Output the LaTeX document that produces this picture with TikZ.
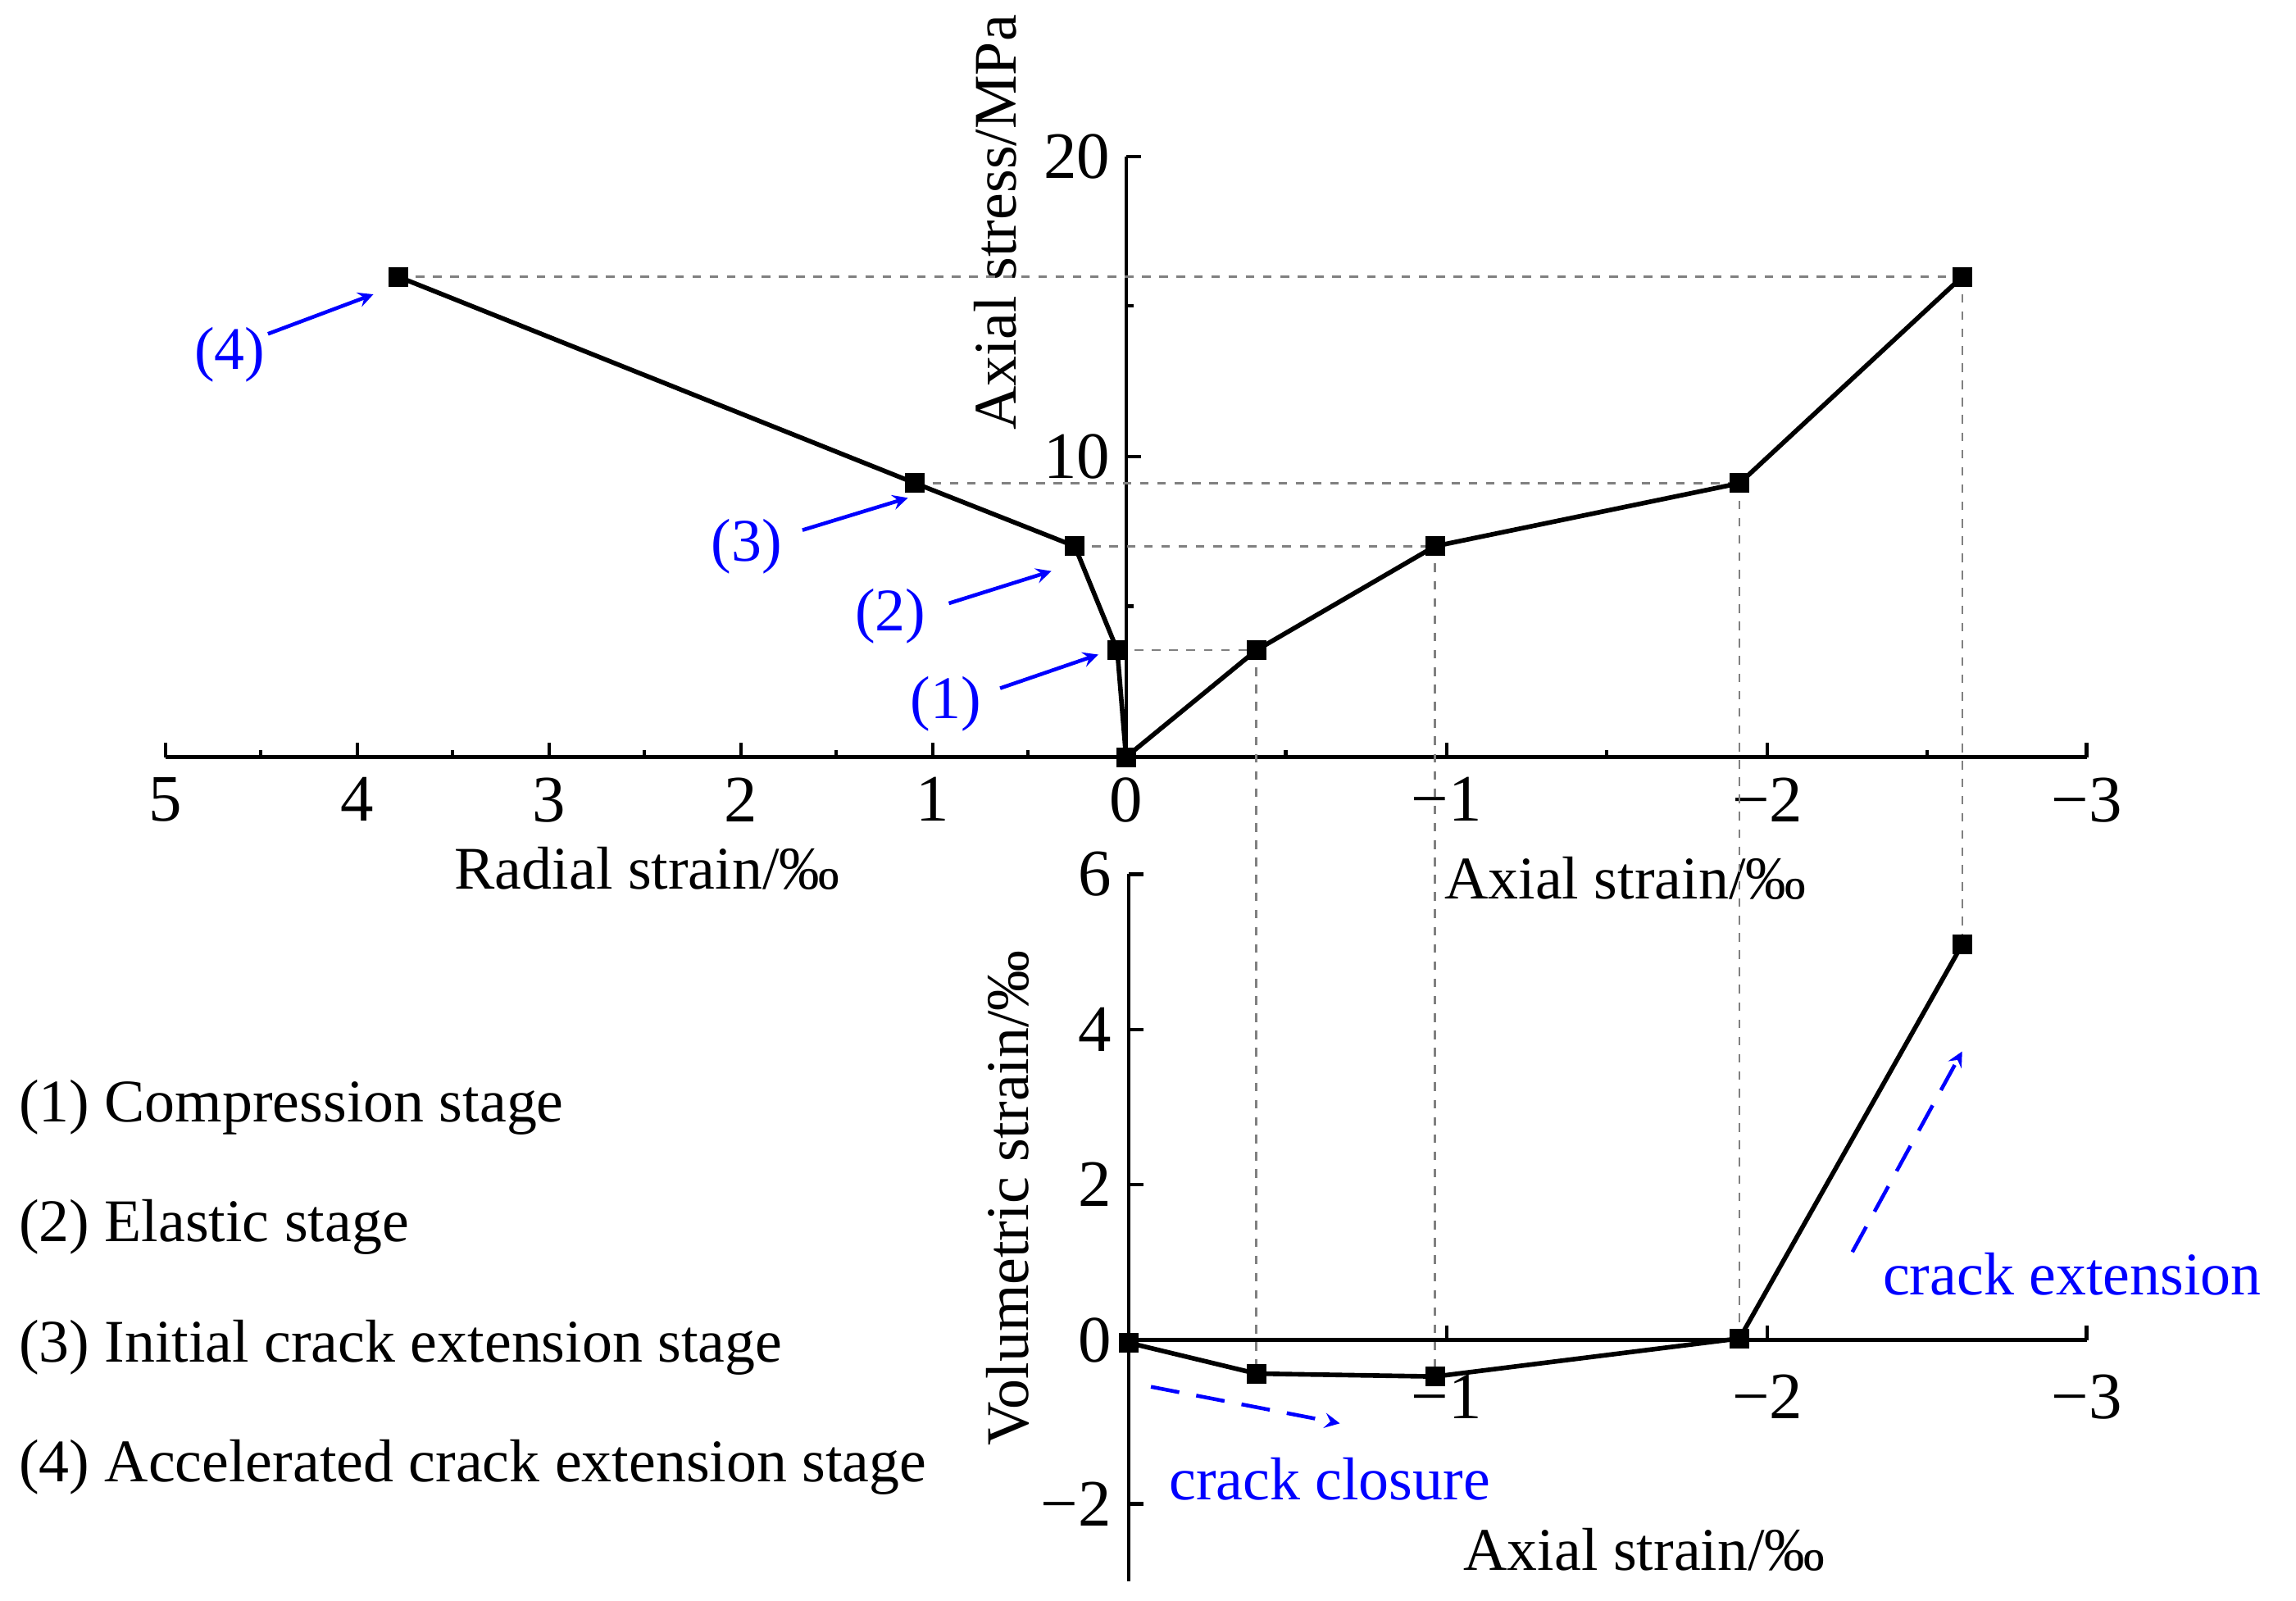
\documentclass[tikz,border=0pt]{standalone}
\usepackage{fontspec}
\setmainfont{Liberation Serif}
\begin{document}
\begin{tikzpicture}[x=0.01786cm,y=-0.01786cm,
  ax/.style={line width=1.2pt},
  crv/.style={line width=1.6pt},
  gd/.style={gray,dashed,line width=0.7pt},
  mk/.style={fill=black,minimum size=0.24cm,inner sep=0pt,rectangle},
  tl/.style={font=\fontsize{23}{26}\selectfont},
  lb/.style={font=\fontsize{21}{24}\selectfont},
  bl/.style={blue,font=\fontsize{21}{24}\selectfont},
  ba/.style={blue,line width=1.3pt,-stealth},
  bd/.style={blue,line width=1.3pt,dashed,dash pattern=on 10pt off 6pt,-stealth}]
\useasboundingbox (0,0) rectangle (1568,1093);
% top axes
\draw[ax] (113,517) -- (1425,517);
\draw[ax] (769,517) -- (769,107);
\foreach \x/\t in {113/5,244/4,375/3,506/2,637/1,769/0}{\draw[ax] (\x,517)--(\x,507); \node[tl,anchor=north] at (\x,524) {\t};}
\foreach \x in {178,309,440,571,702}{\draw[ax] (\x,517)--(\x,512);}
\foreach \x/\t in {988/−1,1207/−2,1425/−3}{\draw[ax] (\x,517)--(\x,507); \node[tl,anchor=north] at (\x,524) {\t};}
\foreach \x in {878,1097,1316}{\draw[ax] (\x,517)--(\x,512);}
\foreach \y/\t in {312/10,107/20}{\draw[ax] (769,\y)--(779,\y); \node[tl,anchor=east] at (765,\y) {\t};}
\draw[ax] (769,414)--(774,414); \draw[ax] (769,209)--(774,209);
\node[lb,rotate=90] (yl1) at (680,152) {Axial stress/MPa};
\node[lb] (xl1) at (442,593) {Radial strain/‰};
\node[lb] (xl2) at (1110,600) {Axial strain/‰};
% bottom axes
\draw[ax] (771,597) -- (771,1080);
\draw[ax] (771,915) -- (1425,915);
\foreach \y/\t in {597/6,703/4,809/2,915/0,1027/−2}{\draw[ax] (771,\y)--(781,\y); \node[tl,anchor=east] at (766,\y) {\t};}
\foreach \x/\t in {988/−1,1207/−2,1425/−3}{\draw[ax] (\x,915)--(\x,905); \node[tl,anchor=north] at (\x,932) {\t};}
\node[lb,rotate=90] (yl2) at (688,818) {Volumetric strain/‰};
\node[lb] (xl3) at (1123,1058) {Axial strain/‰};
% dashed guides
\draw[gd] (763,444)--(858,444); \draw[gd] (734,373)--(980,373);
\draw[gd] (625,330)--(1188,330); \draw[gd] (272,189)--(1340,189);
\draw[gd] (858,444)--(858,938); \draw[gd] (980,373)--(980,940);
\draw[gd] (1188,330)--(1188,914); \draw[gd] (1340,189)--(1340,645);
% curves
\draw[crv] (769,517)--(858,444)--(980,373)--(1188,330)--(1340,189);
\draw[crv] (769,517)--(763,444)--(734,373)--(625,330)--(272,189);
\draw[crv] (771,917)--(858,938)--(980,940)--(1188,914)--(1340,645);
\foreach \p in {(769,517),(858,444),(980,373),(1188,330),(1340,189),(763,444),(734,373),(625,330),(272,189),(771,917),(858,938),(980,940),(1188,914),(1340,645)}{\node[mk] at \p {};}
% labels
\node[bl] (l4) at (157,242) {(4)}; \draw[ba] (183,228)--(255,201);
\node[bl] (l3) at (510,373) {(3)}; \draw[ba] (548,362)--(620,340);
\node[bl] (l2) at (608,421) {(2)}; \draw[ba] (648,412)--(718,390);
\node[bl] (l1) at (646,481) {(1)}; \draw[ba] (683,470)--(750,447);
\draw[bd] (786,947)--(915,972); \node[bl] (cc) at (908,1010) {crack closure};
\draw[bd] (1265,855)--(1340,718); \node[bl] (ce) at (1415,870) {crack extension};
\foreach \y/\t in {756/(1) Compression stage,838/(2) Elastic stage,920/(3) Initial crack extension stage,1002/(4) Accelerated crack extension stage}{\node[lb,anchor=west] at (6,\y) {\t};}
\end{tikzpicture}
\end{document}
